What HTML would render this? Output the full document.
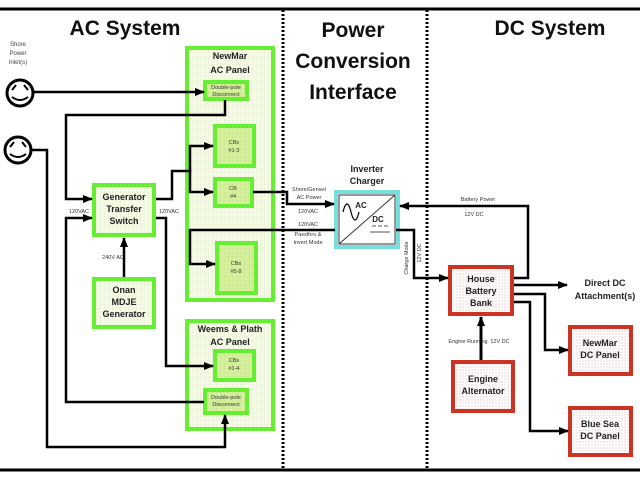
<!DOCTYPE html>
<html><head><style>body{margin:0;background:#fff}svg{display:block}text{font-family:"Liberation Sans",sans-serif}</style></head><body>
<svg width="640" height="480" viewBox="0 0 640 480" xmlns="http://www.w3.org/2000/svg">
<defs>
<pattern id="g" width="4" height="4" patternUnits="userSpaceOnUse"><rect width="4" height="4" fill="#f6fbe8"/><path d="M0 0H4M0 0V4" stroke="#dde8c8" stroke-width="0.6"/></pattern>
<pattern id="g2" width="4" height="4" patternUnits="userSpaceOnUse"><rect width="4" height="4" fill="#d6f0a0"/><path d="M0 0H4M0 0V4" stroke="#bfe080" stroke-width="0.6"/></pattern>
<pattern id="r" width="3" height="3" patternUnits="userSpaceOnUse"><rect width="3" height="3" fill="#fff"/><circle cx="1" cy="1" r="0.5" fill="#c88"/></pattern>
<marker id="a" markerWidth="10" markerHeight="8" refX="9" refY="4" orient="auto" markerUnits="userSpaceOnUse"><path d="M0 0L10 4L0 8Z" fill="#000"/></marker>
</defs>
<line x1="0" y1="9" x2="640" y2="9" stroke="#000" stroke-width="3"/>
<line x1="0" y1="470" x2="640" y2="470" stroke="#000" stroke-width="3"/>
<line x1="283" y1="10" x2="283" y2="470" stroke="#000" stroke-width="3" stroke-dasharray="2,2"/>
<line x1="427" y1="10" x2="427" y2="470" stroke="#000" stroke-width="3" stroke-dasharray="2,2"/>
<g font-weight="bold" font-size="21" text-anchor="middle" fill="#111">
<text x="125" y="35">AC System</text><text x="353" y="37">Power</text><text x="353" y="68">Conversion</text><text x="353" y="99">Interface</text><text x="550" y="35">DC System</text></g>
<g font-size="6" fill="#444" text-anchor="middle"><text x="18" y="46">Shore</text><text x="18" y="55">Power</text><text x="18" y="64">Inlet(s)</text></g>
<g fill="none" stroke="#000" stroke-width="3">
<circle cx="20" cy="93" r="13"/><circle cx="18" cy="150" r="13"/></g>
<g fill="none" stroke="#000" stroke-width="2"><path d="M12 90l4-5M28 90l-4-5M12 97q8 6 16 0"/><path d="M10 147l4-5M26 147l-4-5M10 154q8 6 16 0"/></g>
<g stroke="#66ee33" stroke-width="4">
<rect x="187" y="48" width="86" height="252" fill="url(#g)"/>
<rect x="187" y="321" width="86" height="108" fill="url(#g)"/>
<rect x="94" y="185" width="60" height="50" fill="url(#g)"/>
<rect x="94" y="279" width="60" height="48" fill="url(#g)"/>
<rect x="205" y="82" width="42" height="17" fill="url(#g2)"/>
<rect x="215" y="126" width="39" height="40" fill="url(#g2)"/>
<rect x="215" y="179" width="37" height="27" fill="url(#g2)"/>
<rect x="217" y="243" width="39" height="50" fill="url(#g2)"/>
<rect x="215" y="351" width="39" height="29" fill="url(#g2)"/>
<rect x="205" y="390" width="42" height="23" fill="url(#g2)"/>
</g>
<rect x="336" y="192" width="62" height="55" fill="#fff" stroke="#77dddd" stroke-width="4"/>
<rect x="339" y="195" width="56" height="49" fill="#fff" stroke="#333" stroke-width="1"/>
<path d="M339 244L395 195" stroke="#333" stroke-width="1"/>
<path d="M343 212q4-16 8 0t8 0" fill="none" stroke="#000" stroke-width="1.2"/>
<path d="M372 226h4M378 226h4M384 226h4M370 232h20" stroke="#555" stroke-width="1"/>
<g stroke="#cc3322" stroke-width="4" fill="url(#r)">
<rect x="450" y="267" width="62" height="47"/><rect x="453" y="362" width="60" height="49"/>
<rect x="570" y="327" width="61" height="47"/><rect x="570" y="408" width="61" height="47"/></g>
<g font-weight="bold" text-anchor="middle" fill="#222">
<g font-size="9"><text x="230" y="59">NewMar</text><text x="230" y="73">AC Panel</text>
<text x="230" y="332">Weems &amp; Plath</text><text x="230" y="345">AC Panel</text>
<text x="124" y="200">Generator</text><text x="124" y="212">Transfer</text><text x="124" y="224">Switch</text>
<text x="124" y="293">Onan</text><text x="124" y="305">MDJE</text><text x="124" y="317">Generator</text>
<text x="367" y="172">Inverter</text><text x="367" y="184">Charger</text>
<text x="481" y="282">House</text><text x="481" y="294">Battery</text><text x="481" y="306">Bank</text>
<text x="483" y="382">Engine</text><text x="483" y="394">Alternator</text>
<text x="600" y="346">NewMar</text><text x="600" y="358">DC Panel</text>
<text x="600" y="427">Blue Sea</text><text x="600" y="439">DC Panel</text>
<text x="605" y="286">Direct DC</text><text x="605" y="299">Attachment(s)</text></g>
<text x="361" y="208" font-size="8">AC</text><text x="378" y="222" font-size="8">DC</text>
</g>
<g font-size="5.5" text-anchor="middle" fill="#333">
<text x="226" y="89">Double-pole</text><text x="226" y="96">Disconnect</text>
<text x="234" y="144">CBs</text><text x="234" y="152">#1-3</text>
<text x="233" y="190">CB</text><text x="233" y="198">#4</text>
<text x="236" y="265">CBs</text><text x="236" y="273">#5-8</text>
<text x="234" y="362">CBs</text><text x="234" y="370">#1-4</text>
<text x="226" y="399">Double-pole</text><text x="226" y="406">Disconnect</text>
<text x="79" y="213">120VAC</text><text x="169" y="213">120VAC</text><text x="113" y="259">240V AC</text>
<text x="309" y="191">Shore/Genset</text><text x="309" y="199">AC Power</text><text x="308" y="213">120VAC</text>
<text x="308" y="226">120VAC</text><text x="308" y="236">Passthru &amp;</text><text x="308" y="244">Invert Mode</text>
<text x="478" y="201">Battery Power</text><text x="474" y="216">12V DC</text>
<text x="468" y="343">Engine Running</text><text x="500" y="343">12V DC</text>
<text transform="translate(408,258) rotate(-90)">Charge Mode</text>
<text transform="translate(421,253) rotate(-90)">12V DC</text></g>
<g fill="none" stroke="#000" stroke-width="2.5">
<path d="M34 92H204" marker-end="url(#a)"/>
<path d="M225 100V115H66V199H92" marker-end="url(#a)"/>
<path d="M32 150H47V447H225V415" marker-end="url(#a)"/>
<path d="M204 402H66V218H92" marker-end="url(#a)"/>
<path d="M156 199H172V171H190V146H213" marker-end="url(#a)"/>
<path d="M190 170V192H213" marker-end="url(#a)"/>
<path d="M156 218H166V366H213" marker-end="url(#a)"/>
<path d="M124 277V238" marker-end="url(#a)"/>
<path d="M253 192H287V204H334" marker-end="url(#a)"/>
<path d="M335 230H190V264H215" marker-end="url(#a)"/>
<path d="M396 230H414V278H448" marker-end="url(#a)"/>
<path d="M514 278H528V206H400" marker-end="url(#a)"/>
<path d="M514 285H567" marker-end="url(#a)"/>
<path d="M514 294H545V350H568" marker-end="url(#a)"/>
<path d="M514 302H530V431H568" marker-end="url(#a)"/>
<path d="M481 360V317" stroke-width="3" marker-end="url(#a)"/>
</g>
</svg>
</body></html>
